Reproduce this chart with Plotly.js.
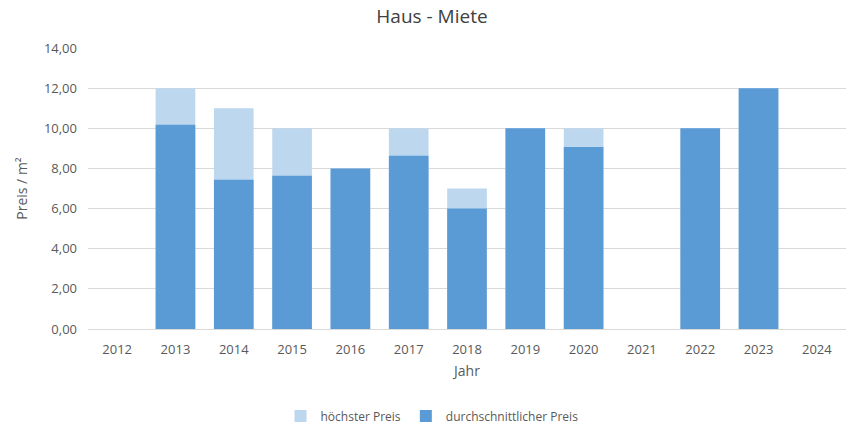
<!DOCTYPE html>
<html>
<head>
<meta charset="utf-8">
<script src="https://cdn.plot.ly/plotly-3.0.1.min.js"></script>
<style>html,body{margin:0;padding:0;background:#fff;}#chart{width:864px;height:432px;}</style>
</head>
<body>
<div id="chart"></div>
<script>
const years = ["2012","2013","2014","2015","2016","2017","2018","2019","2020","2021","2022","2023","2024"];
const hoechsterPreis = [null, 12, 11, 10, 8, 10, 7, 10, 10, null, 10, 12, null];
const durchschnittPreis = [null, 10.17, 7.43, 7.63, 8, 8.63, 6, 10, 9.07, null, 10, 12, null];
const yTicks = [0, 2, 4, 6, 8, 10, 12, 14];

const font = "Open Sans, Liberation Sans, sans-serif";
const traces = [
  {type: "bar", name: "höchster Preis", x: years, y: hoechsterPreis,
   marker: {color: "#BDD7EE"}, hoverinfo: "skip"},
  {type: "bar", name: "durchschnittlicher Preis", x: years, y: durchschnittPreis,
   marker: {color: "#5B9BD5"}, hoverinfo: "skip"}
];
const layout = {
  width: 864, height: 432,
  margin: {l: 88, r: 18, t: 48, b: 103},
  paper_bgcolor: "#fff", plot_bgcolor: "#fff",
  barmode: "overlay", bargap: 0.32,
  separators: ",.",
  font: {family: font, color: "#595959", size: 13},
  title: {text: "Haus - Miete", x: 0.5, xanchor: "center", y: 0.963, yanchor: "middle",
          font: {family: font, size: 19, color: "#404040"}},
  xaxis: {type: "category", categoryorder: "array", categoryarray: years,
          showgrid: false, showline: true, linecolor: "#d9d9d9", linewidth: 1,
          ticks: "", tickfont: {size: 13, color: "#595959"}, ticklabelstandoff: 8,
          title: {text: "Jahr", font: {size: 14, color: "#595959"}, standoff: 9}},
  yaxis: {range: [0, 14], tickvals: yTicks, tickformat: ".2f",
          showgrid: true, gridcolor: "#d9d9d9", gridwidth: 1, zeroline: false,
          showline: false, ticks: "", tickfont: {size: 13, color: "#595959"},
          ticklabelstandoff: 10,
          title: {text: "Preis / m²", font: {size: 14, color: "#595959"}, standoff: 12}},
  legend: {orientation: "h", xref: "container", yref: "container",
           x: 0.5, xanchor: "center", y: 0.037, yanchor: "middle",
           font: {size: 12, color: "#595959"}, traceorder: "normal", itemwidth: 30},
  showlegend: true
};
Plotly.newPlot("chart", traces, layout, {displayModeBar: false, staticPlot: true});
</script>
</body>
</html>
